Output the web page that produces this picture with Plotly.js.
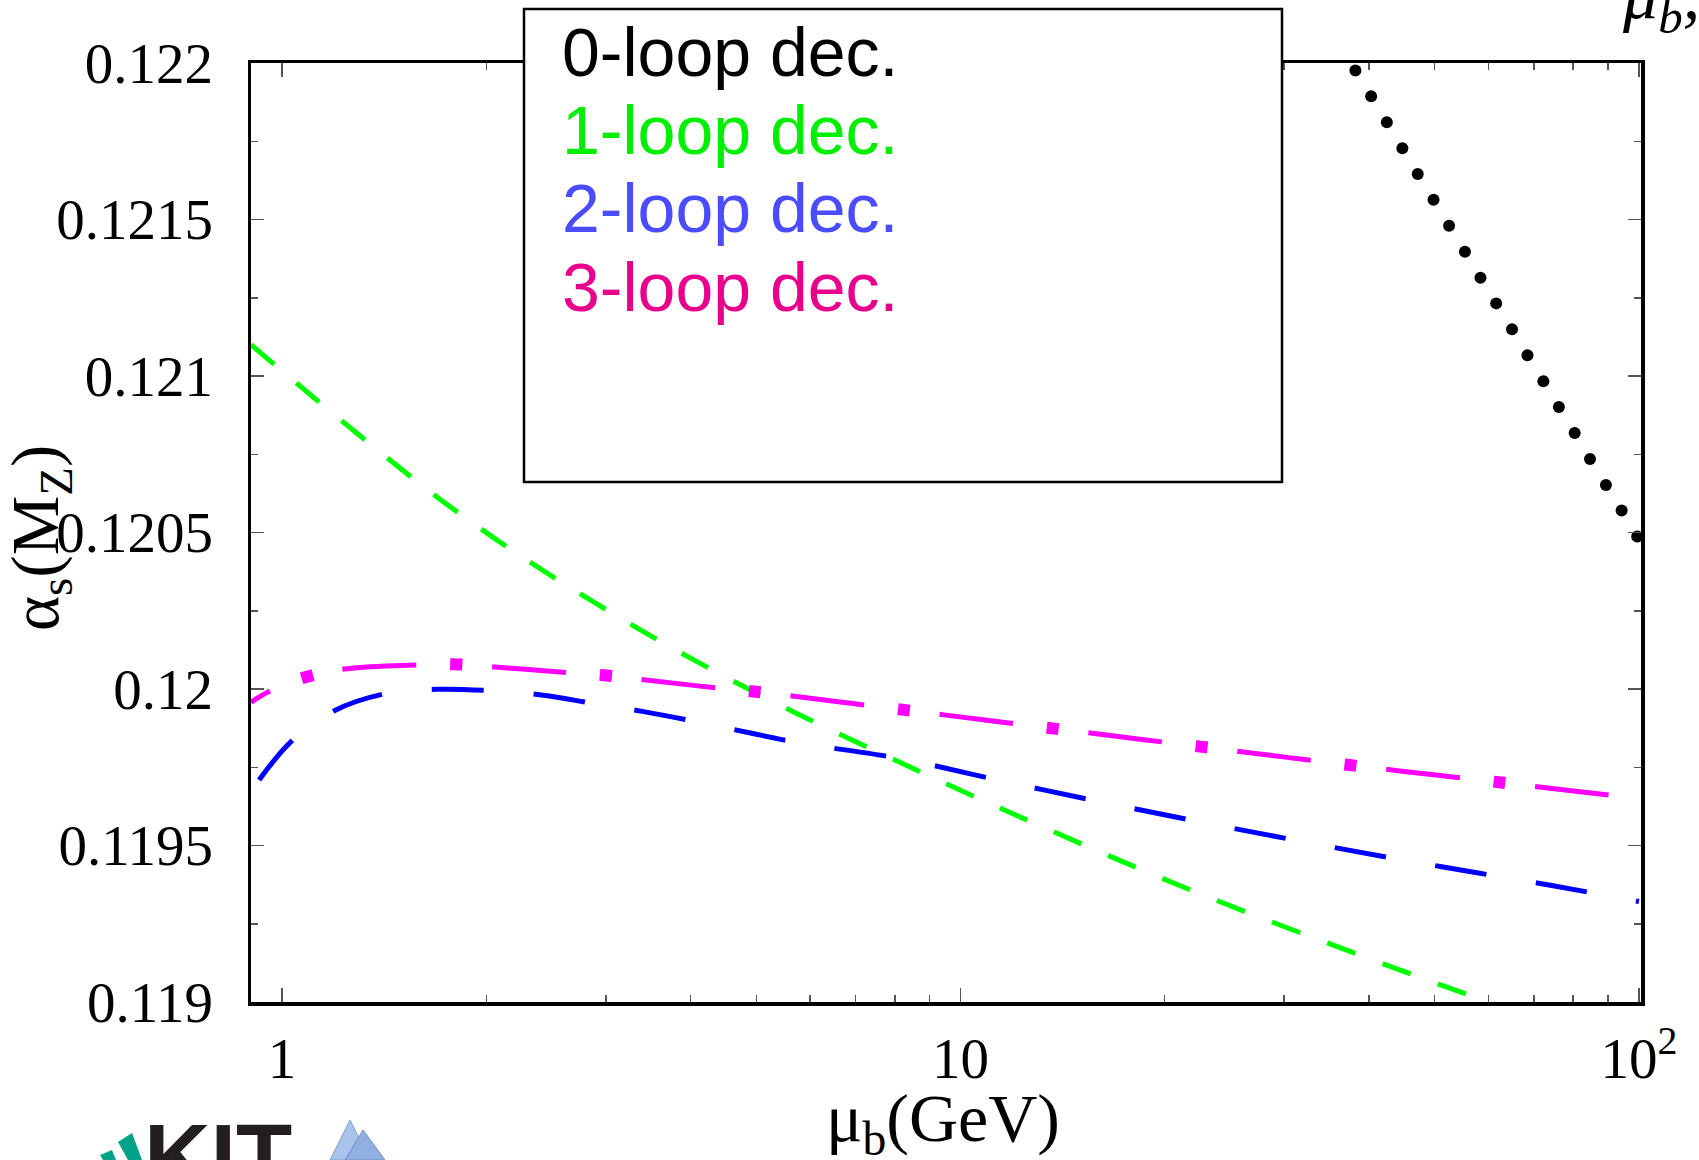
<!DOCTYPE html>
<html>
<head>
<meta charset="utf-8">
<script src="https://cdn.plot.ly/plotly-3.0.1.min.js"></script>
<style>html,body{margin:0;padding:0;background:#fff;}#plot{width:1699px;height:1160px;}</style>
</head>
<body>
<div id="plot"></div>
<script>
// ---- data ----
const seriesNames = ['0-loop dec.', '1-loop dec.', '2-loop dec.', '3-loop dec.'];

const muLoop0 = [38.2, 40.3, 42.5, 44.8, 47.2, 49.8, 52.5, 55.4, 58.4, 61.6, 65.0, 68.5, 72.3, 76.2, 80.4, 84.7, 89.4, 94.3, 99.4];
const asLoop0 = [0.121976, 0.121894, 0.121811, 0.121728, 0.121645, 0.121563, 0.121480, 0.121397, 0.121314, 0.121232, 0.121149, 0.121066, 0.120983, 0.120901, 0.120818, 0.120735, 0.120652, 0.120570, 0.120487];

const muLoop1 = [0.9, 1.79, 2.96, 4.95, 8.44, 13.1, 22.0, 38.2, 57.2, 100];
const asLoop1 = [0.12110, 0.120574, 0.120262, 0.119992, 0.119750, 0.119563, 0.119355, 0.119155, 0.119016, 0.11883];

const muLoop2 = [0.925, 1.031, 1.192, 1.411, 1.687, 2.015, 2.410, 2.872, 3.429, 4.074, 4.861, 5.779, 8.13, 11.75, 16.99, 24.54, 35.45, 51.2, 74.0, 100];
const asLoop2 = [0.119709, 0.119832, 0.119930, 0.119984, 0.119999, 0.119995, 0.119981, 0.119954, 0.119927, 0.119896, 0.119861, 0.119828, 0.119778, 0.119702, 0.119629, 0.119560, 0.119494, 0.119432, 0.119373, 0.119321];

const muLoop3 = [0.9, 0.96, 1.079, 1.224, 1.578, 1.793, 2.033, 2.623, 2.980, 3.376, 4.347, 4.951, 8.195, 13.57, 22.56, 37.48, 62.29, 100];
const asLoop3 = [0.119958, 0.119994, 0.120037, 0.120063, 0.120077, 0.120079, 0.120071, 0.120053, 0.120044, 0.120031, 0.120004, 0.119992, 0.119934, 0.119875, 0.119816, 0.119757, 0.119702, 0.119650];

const xTickVals = [1, 10, 100];
const xTickText = ['1', '10', '10<sup>2</sup>'];
const xMinorVals = [2, 3, 4, 5, 6, 7, 8, 9, 20, 30, 40, 50, 60, 70, 80, 90];
const yTickVals = [0.119, 0.1195, 0.12, 0.1205, 0.121, 0.1215, 0.122];
const yTickText = ['0.119', '0.1195', '0.12', '0.1205', '0.121', '0.1215', '0.122'];
const yMinorVals = [0.11925, 0.11975, 0.12025, 0.12075, 0.12125, 0.12175];

// ---- geometry / style ----
const W = 1699, H = 1160;
const L = 251, R = 1641, T = 63, B = 1002;
const px = x => (x - L) / (R - L);
const py = y => (B - y) / (B - T);

const serif = 'Liberation Serif, Times New Roman, serif';
const sans = 'Liberation Sans, Arial, sans-serif';
const lineColors = ['#000000', '#00ff00', '#0000ff', '#ff00ff'];
const textColors = ['#000000', '#00ee00', '#4b4bff', '#e8008c'];

const traces = [
  {x: muLoop0, y: asLoop0, type: 'scatter', mode: 'markers', name: seriesNames[0],
   marker: {color: lineColors[0], size: 12}},
  {x: muLoop1, y: asLoop1, type: 'scatter', mode: 'lines', name: seriesNames[1],
   line: {color: lineColors[1], width: 5, dash: '30px,29px', shape: 'spline'}},
  {x: muLoop2, y: asLoop2, type: 'scatter', mode: 'lines', name: seriesNames[2],
   line: {color: lineColors[2], width: 5, dash: '52px,50px', shape: 'spline'}},
  {x: muLoop3, y: asLoop3, type: 'scatter', mode: 'lines', name: seriesNames[3],
   line: {color: lineColors[3], width: 5, dash: '22px,76px,52px,0px', shape: 'spline'}},
  {x: muLoop3, y: asLoop3, type: 'scatter', mode: 'lines', name: seriesNames[3] + ' (dots)',
   line: {color: lineColors[3], width: 12, dash: '0px,56px,12px,82px', shape: 'spline'}}
];

const tickStyle = {ticks: 'inside', tickwidth: 1.5, tickcolor: '#555'};

const annotations = [];
const legendY = [52, 130, 208, 287];
seriesNames.forEach((n, i) => {
  annotations.push({text: n, xref: 'paper', yref: 'paper', x: px(560), y: py(legendY[i]),
    xanchor: 'left', yanchor: 'middle', showarrow: false,
    font: {family: sans, size: 68, color: textColors[i]}});
});
annotations.push({text: 'α<sub>s</sub>(M<sub>Z</sub>)', xref: 'paper', yref: 'paper',
  x: px(40), y: py(538), xanchor: 'center', yanchor: 'middle', textangle: -90, showarrow: false,
  font: {family: serif, size: 67, color: 'black'}});
annotations.push({text: 'μ<sub>b</sub>(GeV)', xref: 'paper', yref: 'paper',
  x: px(943), y: py(1122), xanchor: 'center', yanchor: 'middle', showarrow: false,
  font: {family: serif, size: 68, color: 'black'}});
annotations.push({text: '<i>μ<sub>b</sub>,</i>', xref: 'paper', yref: 'paper',
  x: px(1620), y: py(46), xanchor: 'left', yanchor: 'bottom', showarrow: false,
  font: {family: serif, size: 70, color: 'black'}});
annotations.push({text: '<b>KIT</b>', xref: 'paper', yref: 'paper',
  x: px(218), y: py(1104), xanchor: 'center', yanchor: 'top', showarrow: false,
  font: {family: sans, size: 92, color: '#231f20'}});

const poly = pts => 'M ' + pts.map(p => px(p[0]) + ',' + py(p[1])).join(' L ') + ' Z';
const shapes = [
  {type: 'rect', xref: 'paper', yref: 'paper', x0: px(524), x1: px(1282), y0: py(482), y1: py(9),
   line: {color: 'black', width: 2.5}, fillcolor: 'white', layer: 'above'},
  {type: 'path', xref: 'paper', yref: 'paper', path: poly([[118, 1142], [132, 1133], [142, 1160], [128, 1160]]),
   fillcolor: '#00a38a', line: {width: 0}, layer: 'above'},
  {type: 'path', xref: 'paper', yref: 'paper', path: poly([[100, 1155], [112, 1150], [116, 1160], [103, 1160]]),
   fillcolor: '#00a38a', line: {width: 0}, layer: 'above'},
  {type: 'path', xref: 'paper', yref: 'paper', path: poly([[330, 1160], [350, 1120], [370, 1160]]),
   fillcolor: '#a9c3ea', line: {color: '#7f9fd6', width: 1}, layer: 'above'},
  {type: 'path', xref: 'paper', yref: 'paper', path: poly([[345, 1160], [363, 1130], [385, 1160]]),
   fillcolor: '#8fb0e0', line: {color: '#6f8fc6', width: 1}, layer: 'above'}
];

const layout = {
  width: W, height: H,
  margin: {l: L, r: W - R, t: T, b: H - B, pad: 0},
  paper_bgcolor: 'white', plot_bgcolor: 'white',
  showlegend: false,
  xaxis: Object.assign({
    type: 'log', range: [Math.log10(0.9), Math.log10(100.7)],
    showline: true, mirror: 'ticks', linecolor: 'black', linewidth: 3.5,
    ticklen: 14, tickvals: xTickVals, ticktext: xTickText,
    tickfont: {family: serif, size: 57, color: 'black'}, ticklabelstandoff: 4,
    minor: {tickvals: xMinorVals, ticks: 'inside', ticklen: 7, tickwidth: 1.5, tickcolor: '#555', showgrid: false},
    showgrid: false, zeroline: false, fixedrange: true
  }, tickStyle),
  yaxis: Object.assign({
    range: [0.119, 0.122],
    showline: true, mirror: 'ticks', linecolor: 'black', linewidth: 3.5,
    ticklen: 13, tickvals: yTickVals, ticktext: yTickText,
    tickfont: {family: serif, size: 57, color: 'black'}, ticklabelstandoff: 23,
    minor: {tickvals: yMinorVals, ticks: 'inside', ticklen: 7, tickwidth: 1.5, tickcolor: '#555', showgrid: false},
    showgrid: false, zeroline: false, fixedrange: true
  }, tickStyle),
  annotations: annotations,
  shapes: shapes
};

Plotly.newPlot('plot', traces, layout, {staticPlot: true, displayModeBar: false});
</script>
</body>
</html>
